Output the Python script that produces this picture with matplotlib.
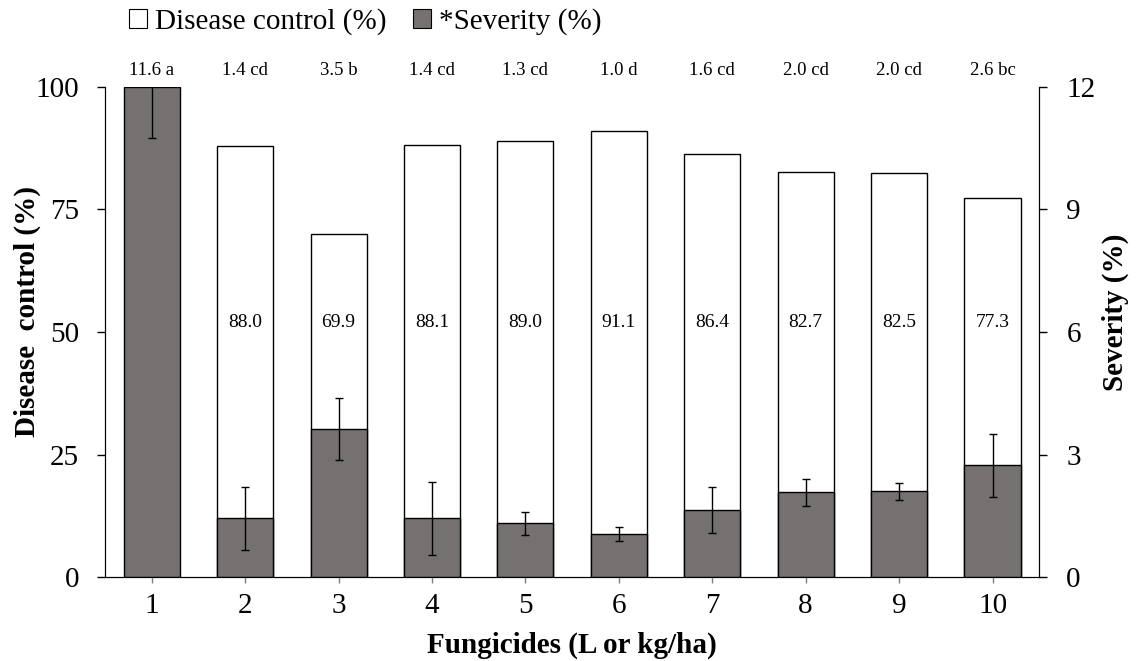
import numpy as np
import matplotlib.pyplot as plt
from matplotlib.patches import Patch

plt.rcParams['font.family'] = ['Liberation Serif', 'DejaVu Serif']

treatments = np.arange(1, 11)
control = [0, 88.0, 69.9, 88.1, 89.0, 91.1, 86.4, 82.7, 82.5, 77.3]
control_labels = ['', '88.0', '69.9', '88.1', '89.0', '91.1', '86.4', '82.7', '82.5', '77.3']
severity = [12.0, 1.44, 3.62, 1.44, 1.32, 1.07, 1.64, 2.08, 2.10, 2.74]
severity_err = [1.25, 0.76, 0.76, 0.89, 0.29, 0.17, 0.56, 0.33, 0.20, 0.77]
severity_labels = ['11.6 a', '1.4 cd', '3.5 b', '1.4 cd', '1.3 cd',
                   '1.0 d', '1.6 cd', '2.0 cd', '2.0 cd', '2.6 bc']

grey = '#767171'
width = 0.6

fig = plt.figure(figsize=(11.42, 6.61), dpi=100)
ax = fig.add_axes([0.092, 0.1266, 0.818, 0.742])
ax2 = ax.twinx()

ax.bar(treatments, control, width, color='white', edgecolor='black', linewidth=1)
ax2.bar(treatments, severity, width, color=grey, edgecolor='black', linewidth=1,
        yerr=severity_err, capsize=2.7, error_kw=dict(elinewidth=1, capthick=1, ecolor='black'))

for x, t in zip(treatments, control_labels):
    if t:
        ax.text(x, 52, t, ha='center', va='center', fontsize=14)
for x, t in zip(treatments, severity_labels):
    ax.text(x, 103.4, t, ha='center', va='center', fontsize=13.5)

ax.set_xlim(0.5, 10.5)
ax.set_ylim(0, 100)
ax2.set_ylim(0, 12)
ax.set_yticks([0, 25, 50, 75, 100])
ax2.set_yticks([0, 3, 6, 9, 12])
ax.set_xticks(treatments)
ax.tick_params(axis='y', labelsize=21, direction='out', length=6, width=1, pad=12.5)
ax.tick_params(axis='x', labelsize=21, direction='out', length=4.5, width=1, pad=7,
               color='#7f7f7f')
ax2.tick_params(axis='y', labelsize=21, direction='out', length=6, width=1, pad=13.5)

for a in (ax, ax2):
    a.spines['top'].set_visible(False)
ax.set_ylabel('Disease  control (%)', fontsize=21, fontweight='bold', va='center')
ax.yaxis.set_label_coords(-0.0835, 0.541)
ax2.set_ylabel('Severity (%)', fontsize=21, fontweight='bold', va='center')
ax2.yaxis.set_label_coords(1.0814, 0.541)
ax.set_xlabel('Fungicides (L or kg/ha)', fontsize=21, fontweight='bold', va='baseline')
ax.xaxis.set_label_coords(0.5, -0.153)

handles = [Patch(facecolor='white', edgecolor='black', linewidth=0.8, label='Disease control (%)'),
           Patch(facecolor=grey, edgecolor='black', linewidth=0.8, label='*Severity (%)')]
fig.legend(handles=handles, loc='center', bbox_to_anchor=(0.32, 0.967), ncol=2,
           frameon=False, fontsize=21, handlelength=0.6, handleheight=0.6,
           handletextpad=0.3, columnspacing=0.9)

plt.savefig('out.png', dpi=100)
